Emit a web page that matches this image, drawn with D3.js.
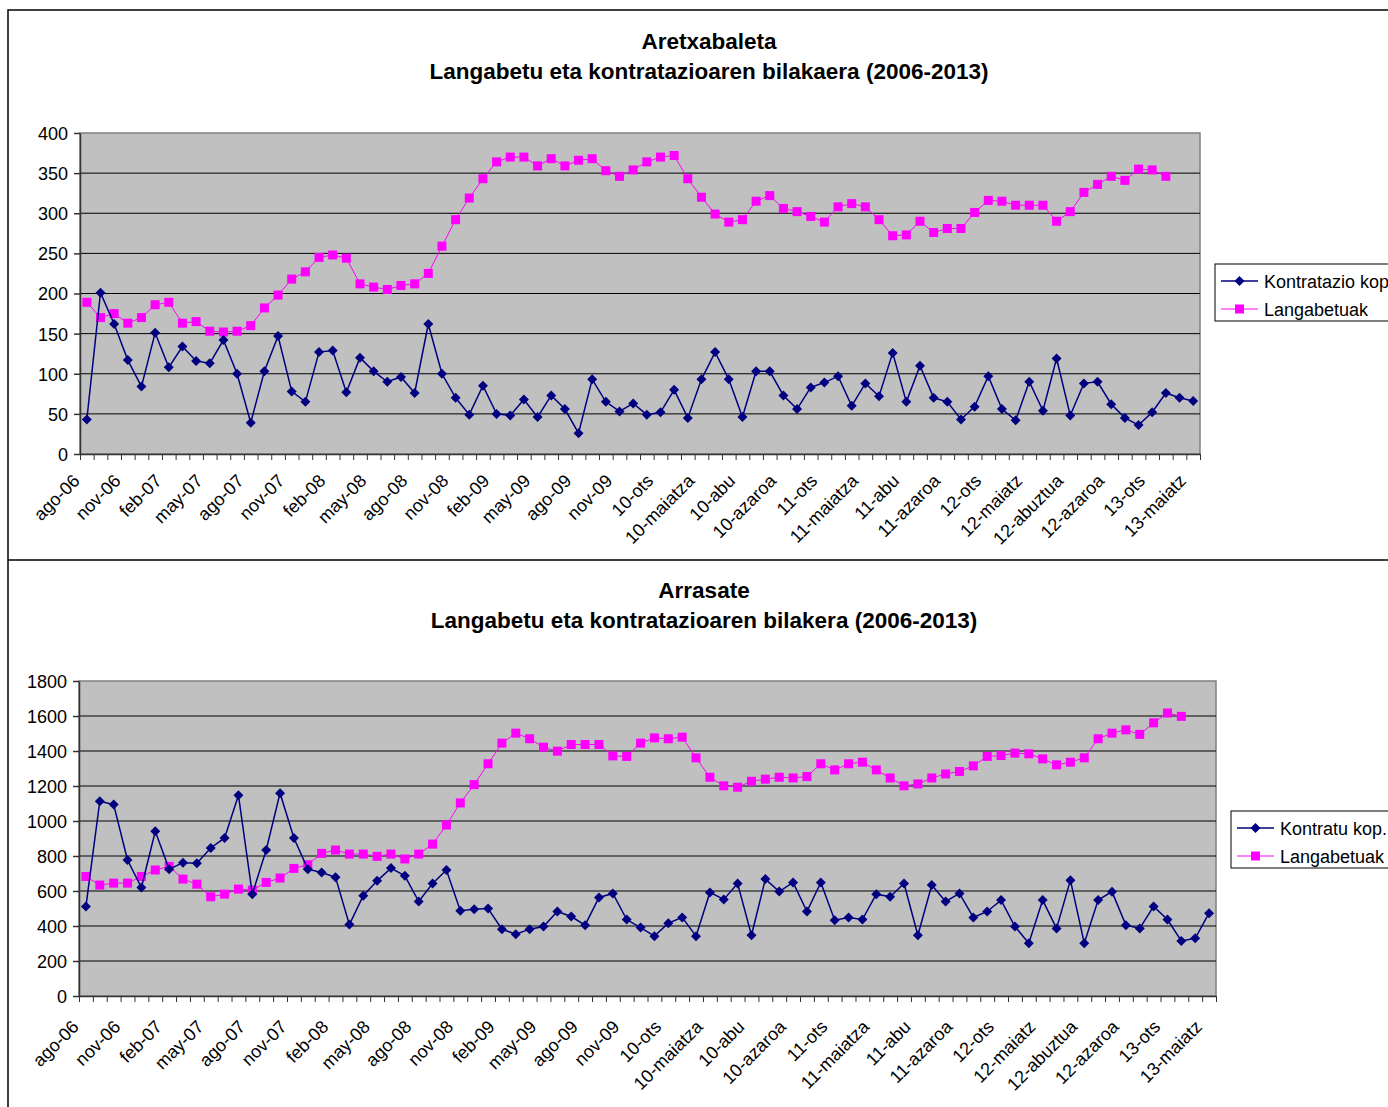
<!DOCTYPE html>
<html>
<head>
<meta charset="utf-8">
<script src="https://cdn.jsdelivr.net/npm/d3@7"></script>
<style>
body { margin: 0; background: #fff; }
svg text { font-family: "Liberation Sans", Arial, sans-serif; fill: #000; }
</style>
</head>
<body>
<div class="chart"></div>
<script>

// DATA
var tickLabels = ['ago-06','nov-06','feb-07','may-07','ago-07','nov-07','feb-08','may-08','ago-08','nov-08',
  'feb-09','may-09','ago-09','nov-09','10-ots','10-maiatza','10-abu','10-azaroa','11-ots','11-maiatza',
  '11-abu','11-azaroa','12-ots','12-maiatz','12-abuztua','12-azaroa','13-ots','13-maiatz'];

// Aretxabaleta (monthly, ago-06 .. may-13)
var kontratazioKop = [43,201,162,117,84,151,108,134,116,113,142,100,39,103,147,78,65,127,129,77,
  120,103,90,96,76,162,100,70,49,85,50,48,68,46,73,56,26,93,65,53,
  63,49,52,80,45,93,127,93,46,103,103,73,56,83,89,97,60,88,72,126,
  65,110,70,65,43,59,97,56,42,90,54,119,48,88,90,62,45,36,52,76,
  70,66];
var langabetuakAretx = [189,170,175,163,170,186,189,163,165,153,152,153,160,182,198,218,227,245,248,244,
  212,208,205,210,212,225,259,292,319,343,364,370,370,359,368,359,366,368,353,346,
  354,364,370,372,343,320,299,289,292,315,322,306,302,296,289,308,312,308,292,272,
  273,290,276,281,281,301,316,315,310,310,310,290,302,326,336,346,341,355,354,346];

// Arrasate (monthly, ago-06 .. may-13)
var kontratuKop = [512,1113,1094,777,620,941,725,762,758,846,903,1147,582,834,1159,903,725,706,678,408,
  573,658,731,687,540,643,720,487,496,500,382,353,382,397,483,454,405,563,586,437,
  391,342,416,449,342,592,552,643,347,668,597,649,483,649,433,449,437,582,567,643,
  347,634,540,586,449,483,548,397,302,548,386,662,302,548,596,405,386,512,437,315,
  330,473];
var langabetuakArrasate = [683,634,645,645,683,720,741,668,639,567,582,611,605,649,674,729,750,815,834,811,
  811,798,811,783,811,868,977,1103,1208,1327,1445,1502,1470,1422,1399,1437,1437,1437,1372,1369,
  1445,1475,1470,1479,1361,1250,1201,1193,1227,1239,1250,1246,1254,1327,1292,1327,1336,1292,1246,1201,
  1212,1246,1269,1283,1315,1369,1374,1388,1384,1355,1321,1336,1361,1470,1502,1521,1495,1561,1617,1598];

var yTicksAretx = [0,50,100,150,200,250,300,350,400];
var yTicksArrasate = [0,200,400,600,800,1000,1200,1400,1600,1800];

var nCat = 82;

var width = 1388,
  height = 1107;

var svg = d3.select('.chart')
  .append('svg')
  .attr('width', width)
  .attr('height', height);

// outer frames of the two excel objects
svg.append('path')
  .attr('d', 'M8,1107V10H1388M8,560H1388')
  .attr('fill', 'none')
  .attr('stroke', '#000')
  .attr('stroke-width', 1.5);

function drawChart(opt) {
  var g = svg.append('g');

  var x = d3.scaleLinear().domain([0, nCat]).range([opt.left, opt.right]);
  var y = d3.scaleLinear().domain([0, opt.yMax]).range([opt.bottom, opt.top]);

  // titles
  g.append('text')
    .attr('x', opt.titleX).attr('y', opt.titleY)
    .attr('text-anchor', 'middle')
    .style('font-size', '22.5px').style('font-weight', 'bold')
    .text(opt.title1);
  g.append('text')
    .attr('x', opt.titleX).attr('y', opt.titleY + 30)
    .attr('text-anchor', 'middle')
    .style('font-size', '22.5px').style('font-weight', 'bold')
    .text(opt.title2);

  // plot area
  g.append('rect')
    .attr('x', opt.left).attr('y', opt.top)
    .attr('width', opt.right - opt.left).attr('height', opt.bottom - opt.top)
    .attr('fill', '#C0C0C0')
    .attr('stroke', '#808080')
    .attr('stroke-width', 1.5);

  // gridlines
  g.selectAll('.grid')
    .data(opt.yTicks.filter(function(d){ return d > 0 && d < opt.yMax; }))
    .enter()
    .append('line')
    .attr('x1', opt.left).attr('x2', opt.right)
    .attr('y1', function(d){ return y(d); })
    .attr('y2', function(d){ return y(d); })
    .attr('stroke', '#000')
    .attr('stroke-width', 1);

  // y axis
  var yAxis = d3.axisLeft(y).tickValues(opt.yTicks).tickFormat(d3.format('d'))
    .tickSize(6).tickSizeOuter(0).tickPadding(6);
  var yAxisG = g.append('g').attr('transform', 'translate(' + opt.left + ',0)').call(yAxis);
  yAxisG.selectAll('text').style('font-size', '18px').attr('dy', '0.36em');
  yAxisG.selectAll('line, path').attr('stroke', '#333').attr('stroke-width', 1.5);

  // x axis, ticks between categories
  var xAxis = d3.axisBottom(x).tickValues(d3.range(nCat + 1)).tickSize(6).tickSizeOuter(0).tickFormat('');
  var xAxisG = g.append('g').attr('transform', 'translate(0,' + opt.bottom + ')').call(xAxis);
  xAxisG.selectAll('line').attr('stroke', '#333').attr('stroke-width', 1);
  xAxisG.select('path').attr('stroke', '#333').attr('stroke-width', 1.5);

  // x labels every 3 months
  g.selectAll('.xlab')
    .data(tickLabels)
    .enter()
    .append('text')
    .attr('text-anchor', 'end')
    .style('font-size', '18px')
    .attr('transform', function(d, i) {
      return 'translate(' + (x(i * 3 + 0.5) + opt.labDx) + ',' + (opt.bottom + opt.labDy) + ') rotate(-45)';
    })
    .text(function(d){ return d; });

  var cx = function(d, i){ return x(i + 0.5); };

  // Langabetuak
  g.append('path')
    .datum(opt.s2)
    .attr('fill', 'none')
    .attr('stroke', '#FF00FF')
    .attr('stroke-width', 1)
    .attr('d', d3.line().x(cx).y(function(d){ return y(d); }));
  g.selectAll('.sq')
    .data(opt.s2)
    .enter()
    .append('rect')
    .attr('x', function(d, i){ return cx(d, i) - 4.5; })
    .attr('y', function(d){ return y(d) - 4.5; })
    .attr('width', 9).attr('height', 9)
    .attr('fill', '#FF00FF');

  // Kontratazio
  g.append('path')
    .datum(opt.s1)
    .attr('fill', 'none')
    .attr('stroke', '#000080')
    .attr('stroke-width', 1.5)
    .attr('d', d3.line().x(cx).y(function(d){ return y(d); }));
  g.selectAll('.dm')
    .data(opt.s1)
    .enter()
    .append('path')
    .attr('d', 'M0,-5L5,0L0,5L-5,0Z')
    .attr('transform', function(d, i){ return 'translate(' + cx(d, i) + ',' + y(d) + ')'; })
    .attr('fill', '#000080');

  // legend
  var lg = g.append('g').attr('transform', 'translate(' + opt.legX + ',' + opt.legY + ')');
  lg.append('rect')
    .attr('x', 0).attr('y', 0).attr('width', 220).attr('height', 57)
    .attr('fill', '#fff').attr('stroke', '#000').attr('stroke-width', 1);
  var items = [
    {name: opt.name1, color: '#000080', shape: 'diamond', yy: 17},
    {name: 'Langabetuak', color: '#FF00FF', shape: 'square', yy: 45}
  ];
  items.forEach(function(it) {
    lg.append('line')
      .attr('x1', 6).attr('x2', 43).attr('y1', it.yy).attr('y2', it.yy)
      .attr('stroke', it.color).attr('stroke-width', it.shape == 'diamond' ? 1.5 : 1);
    if (it.shape == 'diamond') {
      lg.append('path').attr('d', 'M0,-5L5,0L0,5L-5,0Z')
        .attr('transform', 'translate(24.5,' + it.yy + ')').attr('fill', it.color);
    } else {
      lg.append('rect').attr('x', 20).attr('y', it.yy - 4.5).attr('width', 9).attr('height', 9)
        .attr('fill', it.color);
    }
    lg.append('text')
      .attr('x', 49).attr('y', it.yy + 6.5)
      .style('font-size', '18px')
      .text(it.name);
  });
}

drawChart({
  title1: 'Aretxabaleta',
  title2: 'Langabetu eta kontratazioaren bilakaera (2006-2013)',
  titleX: 709, titleY: 49,
  left: 80, right: 1200, top: 133, bottom: 454,
  yMax: 400, yTicks: yTicksAretx,
  labDx: -6, labDy: 28,
  s1: kontratazioKop, s2: langabetuakAretx,
  name1: 'Kontratazio kop.',
  legX: 1215, legY: 264
});

drawChart({
  title1: 'Arrasate',
  title2: 'Langabetu eta kontratazioaren bilakera (2006-2013)',
  titleX: 704, titleY: 598,
  left: 79, right: 1216, top: 681, bottom: 996,
  yMax: 1800, yTicks: yTicksArrasate,
  labDx: -6, labDy: 32,
  s1: kontratuKop, s2: langabetuakArrasate,
  name1: 'Kontratu kop.',
  legX: 1231, legY: 811
});

</script>
</body>
</html>
